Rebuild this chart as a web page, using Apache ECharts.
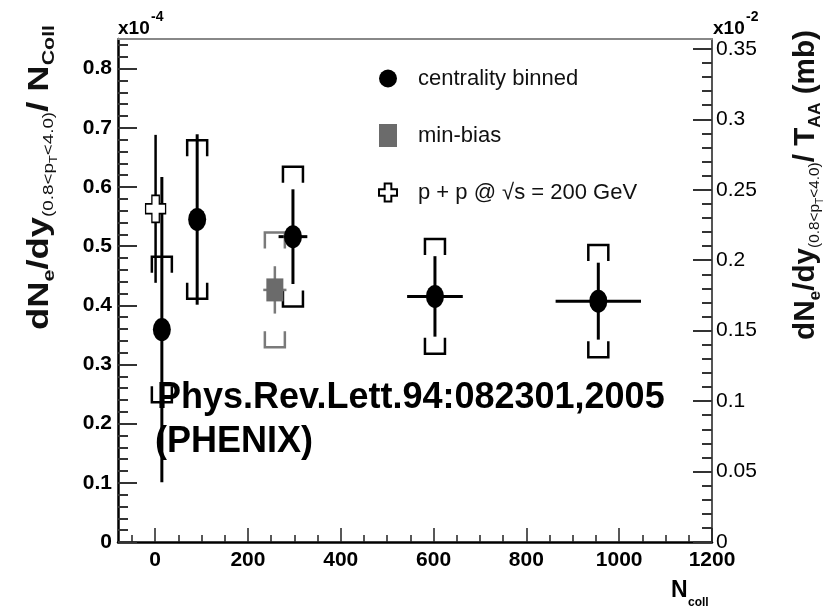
<!DOCTYPE html>
<html><head><meta charset="utf-8">
<script src="https://cdn.jsdelivr.net/npm/echarts@6/dist/echarts.min.js"></script>
<style>html,body{margin:0;padding:0;background:#fff}#c{width:823px;height:614px}</style>
</head><body><div id="c"></div>
<script>
// ---------------- data ----------------
const centralityNcoll = [14.5, 90.6, 297, 603, 955];
const centralityValue = [0.359, 0.545, 0.516, 0.415, 0.407];
const centralityStatErr = [0.258, 0.144, 0.080, 0.068, 0.065];
const centralitySysErr = [0.123, 0.134, 0.118, 0.097, 0.095];
const centralityNcollErr = [4, 12, 31, 60, 92];

const minBiasNcoll = [258];
const minBiasValue = [0.426];
const minBiasStatErr = [0.040];
const minBiasSysErr = [0.097];
const minBiasNcollErr = [25];

const ppNcoll = [1];
const ppValue = [0.563];
const ppStatErr = [0.125];

const xTicks = [0, 200, 400, 600, 800, 1000, 1200];
const xTickLabels = ['0', '200', '400', '600', '800', '1000', '1200'];
const xMinorTicks = [-50, 50, 100, 150, 250, 300, 350, 450, 500, 550, 650, 700, 750, 850, 900, 950, 1050, 1100, 1150];
const leftTicks = [0, 0.1, 0.2, 0.3, 0.4, 0.5, 0.6, 0.7, 0.8];
const leftTickLabels = ['0', '0.1', '0.2', '0.3', '0.4', '0.5', '0.6', '0.7', '0.8'];
const leftMinorTicks = [0.02, 0.04, 0.06, 0.08, 0.12, 0.14, 0.16, 0.18, 0.22, 0.24, 0.26, 0.28, 0.32, 0.34, 0.36, 0.38,
  0.42, 0.44, 0.46, 0.48, 0.52, 0.54, 0.56, 0.58, 0.62, 0.64, 0.66, 0.68, 0.72, 0.74, 0.76, 0.78, 0.82, 0.84];
const rightTicks = [0, 0.05, 0.1, 0.15, 0.2, 0.25, 0.3, 0.35];
const rightTickLabels = ['0', '0.05', '0.1', '0.15', '0.2', '0.25', '0.3', '0.35'];
const rightMinorTicks = [0.01, 0.02, 0.03, 0.04, 0.06, 0.07, 0.08, 0.09, 0.11, 0.12, 0.13, 0.14, 0.16, 0.17, 0.18, 0.19,
  0.21, 0.22, 0.23, 0.24, 0.26, 0.27, 0.28, 0.29, 0.31, 0.32, 0.33, 0.34];

const seriesNames = ['centrality binned', 'min-bias', 'p + p @ \u221As = 200 GeV'];

// ---------------- helpers ----------------
const ctx = document.createElement('canvas').getContext('2d');
function measure(font, s) { ctx.font = font; return ctx.measureText(s).width; }
const hasNarrow = Math.abs(measure('27px "Liberation Sans Narrow", monospace', 'centrality binned') -
  measure('27px monospace', 'centrality binned')) > 1;
const NARROW = '"Liberation Sans Narrow"';
const SANS = '"Liberation Sans", Arial, sans-serif';
const tickFont = hasNarrow ? { fontFamily: NARROW, fontSize: 25, fontWeight: 'bold' } : { fontFamily: SANS, fontSize: 21, fontWeight: 'bold' };
const legendFont = hasNarrow ? { fontFamily: NARROW, fontSize: 27 } : { fontFamily: SANS, fontSize: 22 };

function findLabel(vals, labels, v) {
  for (let i = 0; i < vals.length; i++) if (Math.abs(vals[i] - v) < 1e-9) return labels[i];
  return '';
}

const ELLIPSE = 'path://M0,10A10,10,0,1,1,20,10A10,10,0,1,1,0,10Z';
const CROSS = 'path://M6.3,0H13.7V6.4H20V13.6H13.7V20H6.3V13.6H0V6.4H6.3Z';

function makeErrRender(color, statW, sysW) {
  return function (params, api) {
    const x = api.value(0), y = api.value(1), se = api.value(2), sy = api.value(3), xe = api.value(4);
    const c = api.coord([x, y]);
    const t = api.coord([x, y + se]), b = api.coord([x, y - se]);
    const ch = [];
    ch.push({ type: 'line', shape: { x1: c[0], y1: t[1], x2: c[0], y2: b[1] }, style: { stroke: color, lineWidth: statW } });
    if (xe > 0) {
      const l = api.coord([x - xe, y]), r = api.coord([x + xe, y]);
      ch.push({ type: 'line', shape: { x1: l[0], y1: c[1], x2: r[0], y2: c[1] }, style: { stroke: color, lineWidth: statW } });
    }
    if (sy > 0) {
      const st = api.coord([x, y + sy])[1], sb = api.coord([x, y - sy])[1];
      const hw = 10, leg = 16;
      ch.push({ type: 'polyline', shape: { points: [[c[0] - hw, st + leg], [c[0] - hw, st], [c[0] + hw, st], [c[0] + hw, st + leg]] },
        style: { stroke: color, lineWidth: sysW, fill: null } });
      ch.push({ type: 'polyline', shape: { points: [[c[0] - hw, sb - leg], [c[0] - hw, sb], [c[0] + hw, sb], [c[0] + hw, sb - leg]] },
        style: { stroke: color, lineWidth: sysW, fill: null } });
    }
    return { type: 'group', children: ch };
  };
}

function zip5(a, b, c, d, e) { return a.map((v, i) => [v, b[i], c[i], d ? d[i] : 0, e ? e[i] : 0]); }

// vertical title builder (reads bottom -> top)
function verticalTitle(parts, anchorX, yBottom, yTop) {
  let cum = 0;
  const children = [];
  parts.forEach(p => {
    const font = p.w + ' ' + p.s + 'px ' + SANS;
    const wd = measure(font, p.t);
    children.push({ type: 'text', x: cum, y: p.dy, style: { text: p.t, fontSize: p.s, fontWeight: p.w, fontFamily: SANS,
      fill: '#111', align: 'left', verticalAlign: 'middle' } });
    cum += wd;
  });
  const sc = (yBottom - yTop) / cum;
  return { type: 'group', x: anchorX, y: yBottom, rotation: Math.PI / 2, scaleX: sc, scaleY: 1, children: children };
}

const leftTitle = verticalTitle([
  { t: 'dN', s: 29, w: 'bold', dy: 0 }, { t: 'e', s: 17, w: 'bold', dy: 9 }, { t: '/dy', s: 29, w: 'bold', dy: 0 },
  { t: '(0.8<p', s: 15, w: 'normal', dy: 9 }, { t: 'T', s: 10, w: 'normal', dy: 14 }, { t: '<4.0)', s: 15, w: 'normal', dy: 9 },
  { t: '/ N', s: 29, w: 'bold', dy: 0 }, { t: 'Coll', s: 17, w: 'bold', dy: 9 }
], 40, 330, 25);
const rightTitle = verticalTitle([
  { t: 'dN', s: 29, w: 'bold', dy: 0 }, { t: 'e', s: 17, w: 'bold', dy: 9 }, { t: '/dy', s: 29, w: 'bold', dy: 0 },
  { t: '(0.8<p', s: 15, w: 'normal', dy: 9 }, { t: 'T', s: 10, w: 'normal', dy: 14 }, { t: '<4.0)', s: 15, w: 'normal', dy: 9 },
  { t: '/ T', s: 29, w: 'bold', dy: 0 }, { t: 'AA', s: 17, w: 'bold', dy: 9 }, { t: ' (mb)', s: 29, w: 'bold', dy: 0 }
], 806, 340, 30);

const chart = echarts.init(document.getElementById('c'), null, { renderer: 'canvas' });

const option = {
  backgroundColor: '#fff',
  animation: false,
  grid: { left: 118, right: 111, top: 39, bottom: 72, containLabel: false },
  legend: {
    orient: 'vertical', left: 373, top: 62, itemWidth: 18, itemHeight: 23, itemGap: 34, selectedMode: false,
    textStyle: Object.assign({ color: '#111', lineHeight: 23, padding: [0, 0, 0, 16] }, legendFont),
    data: [{ name: seriesNames[0], icon: ELLIPSE }, { name: seriesNames[1], icon: 'rect' }, { name: seriesNames[2], icon: CROSS }]
  },
  xAxis: [
    { type: 'value', min: -80, max: 1200, position: 'bottom', splitLine: { show: false },
      axisLine: { onZero: false, lineStyle: { color: '#000', width: 2.5 } },
      axisTick: { inside: true, length: 14, customValues: xTicks, lineStyle: { color: '#222', width: 1.5 } },
      axisLabel: Object.assign({ customValues: xTicks, margin: 8, color: '#000',
        formatter: v => findLabel(xTicks, xTickLabels, v) }, tickFont) },
    { type: 'value', min: -80, max: 1200, position: 'bottom', splitLine: { show: false },
      axisLine: { show: false, onZero: false },
      axisTick: { inside: true, length: 7, customValues: xMinorTicks, lineStyle: { color: '#222', width: 1.5 } },
      axisLabel: { show: false } },
    { type: 'value', min: -80, max: 1200, position: 'top', splitLine: { show: false },
      axisLine: { onZero: false, lineStyle: { color: '#888', width: 2 } }, axisTick: { show: false }, axisLabel: { show: false } }
  ],
  yAxis: [
    { type: 'value', min: 0, max: 0.85, position: 'left', splitLine: { show: false },
      axisLine: { show: true, onZero: false, lineStyle: { color: '#000', width: 2.5 } },
      axisTick: { inside: true, length: 19, customValues: leftTicks, lineStyle: { color: '#333', width: 2 } },
      axisLabel: Object.assign({ customValues: leftTicks, margin: 6, color: '#000',
        formatter: v => findLabel(leftTicks, leftTickLabels, v) }, tickFont) },
    { type: 'value', min: 0, max: 0.85, position: 'left', splitLine: { show: false },
      axisLine: { show: false, onZero: false },
      axisTick: { inside: true, length: 10, customValues: leftMinorTicks, lineStyle: { color: '#333', width: 2 } },
      axisLabel: { show: false } },
    { type: 'value', min: 0, max: 0.357, position: 'right', splitLine: { show: false },
      axisLine: { show: true, onZero: false, lineStyle: { color: '#555', width: 2 } },
      axisTick: { inside: true, length: 19, customValues: rightTicks, lineStyle: { color: '#333', width: 2 } },
      axisLabel: Object.assign({ customValues: rightTicks, margin: 4, color: '#000',
        formatter: v => findLabel(rightTicks, rightTickLabels, v) }, tickFont, { fontWeight: 'normal' }) },
    { type: 'value', min: 0, max: 0.357, position: 'right', splitLine: { show: false },
      axisLine: { show: false, onZero: false },
      axisTick: { inside: true, length: 10, customValues: rightMinorTicks, lineStyle: { color: '#333', width: 2 } },
      axisLabel: { show: false } }
  ],
  series: [
    { type: 'custom', name: 'centrality-err', xAxisIndex: 0, yAxisIndex: 0, z: 2, clip: false,
      encode: { x: 0, y: 1 }, renderItem: makeErrRender('#000', 3, 2.5),
      data: zip5(centralityNcoll, centralityValue, centralityStatErr, centralitySysErr, centralityNcollErr) },
    { type: 'custom', name: 'minbias-err', xAxisIndex: 0, yAxisIndex: 0, z: 2, clip: false,
      encode: { x: 0, y: 1 }, renderItem: makeErrRender('#7a7a7a', 2.5, 2.5),
      data: zip5(minBiasNcoll, minBiasValue, minBiasStatErr, minBiasSysErr, minBiasNcollErr) },
    { type: 'custom', name: 'pp-err', xAxisIndex: 0, yAxisIndex: 0, z: 2, clip: false,
      encode: { x: 0, y: 1 }, renderItem: makeErrRender('#000', 2.5, 2.5),
      data: zip5(ppNcoll, ppValue, ppStatErr, null, null) },
    { type: 'scatter', name: seriesNames[0], xAxisIndex: 0, yAxisIndex: 0, z: 3, symbol: ELLIPSE, symbolSize: [18, 23],
      itemStyle: { color: '#000', opacity: 1 }, data: centralityNcoll.map((v, i) => [v, centralityValue[i]]) },
    { type: 'scatter', name: seriesNames[1], xAxisIndex: 0, yAxisIndex: 0, z: 3, symbol: 'rect', symbolSize: [17, 23],
      itemStyle: { color: '#6b6b6b', opacity: 1 }, data: minBiasNcoll.map((v, i) => [v, minBiasValue[i]]) },
    { type: 'scatter', name: seriesNames[2], xAxisIndex: 0, yAxisIndex: 0, z: 3, symbol: CROSS, symbolSize: [20, 27],
      itemStyle: { color: '#fff', borderColor: '#000', borderWidth: 1.5, opacity: 1 }, data: ppNcoll.map((v, i) => [v, ppValue[i]]) }
  ],
  graphic: [
    leftTitle, rightTitle,
    { type: 'text', x: 118, y: 29, style: { text: 'x10', fontFamily: SANS, fontWeight: 'bold', fontSize: 19, fill: '#000', verticalAlign: 'middle' } },
    { type: 'text', x: 151, y: 17, style: { text: '-4', fontFamily: SANS, fontWeight: 'bold', fontSize: 14, fill: '#000', verticalAlign: 'middle' } },
    { type: 'text', x: 713, y: 29, style: { text: 'x10', fontFamily: SANS, fontWeight: 'bold', fontSize: 19, fill: '#000', verticalAlign: 'middle' } },
    { type: 'text', x: 746, y: 17, style: { text: '-2', fontFamily: SANS, fontWeight: 'bold', fontSize: 14, fill: '#000', verticalAlign: 'middle' } },
    { type: 'text', x: 671, y: 591, style: { text: 'N', fontFamily: SANS, fontWeight: 'bold', fontSize: 23, fill: '#000', verticalAlign: 'middle' } },
    { type: 'text', x: 688, y: 603, style: { text: 'coll', fontFamily: SANS, fontWeight: 'bold', fontSize: 12, fill: '#000', verticalAlign: 'middle' } },
    { type: 'text', x: 157, y: 398, z: 10, style: { text: 'Phys.Rev.Lett.94:082301,2005', fontFamily: SANS, fontWeight: 'bold', fontSize: 36, fill: '#000', verticalAlign: 'middle' } },
    { type: 'text', x: 155, y: 442, z: 10, style: { text: '(PHENIX)', fontFamily: SANS, fontWeight: 'bold', fontSize: 36, fill: '#000', verticalAlign: 'middle' } }
  ]
};
chart.setOption(option);
</script>
</body></html>
